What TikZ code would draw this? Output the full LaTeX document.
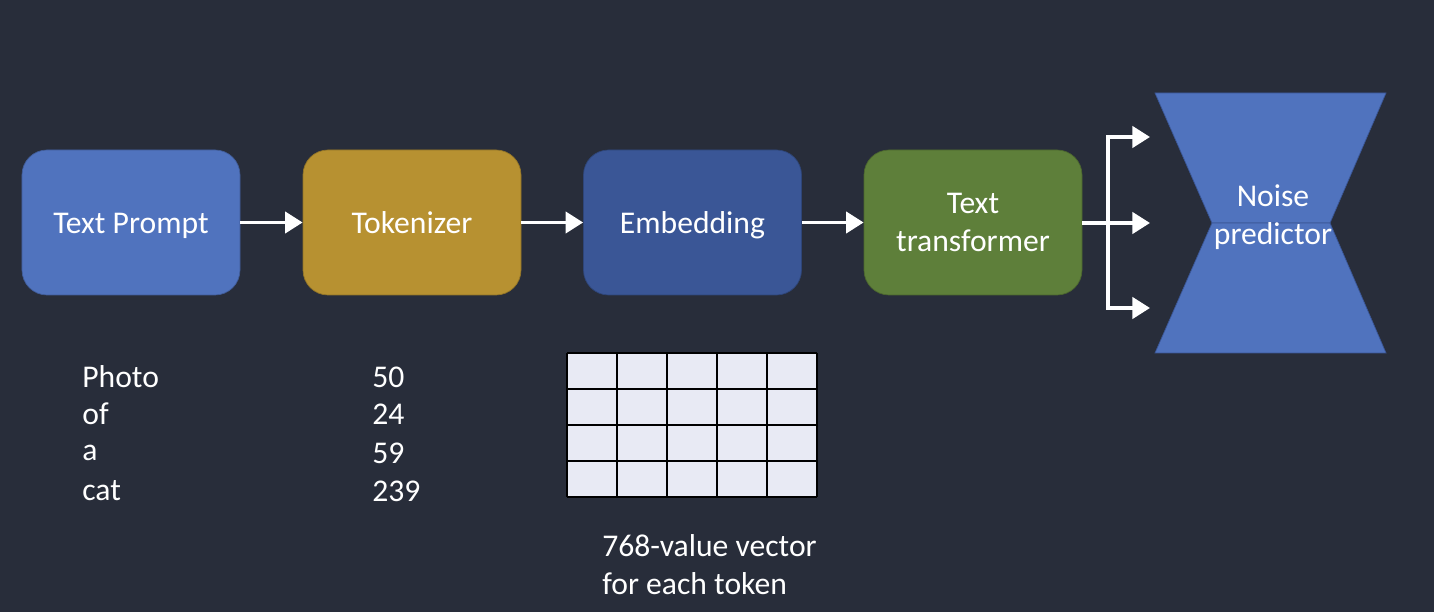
\documentclass[tikz,border=0pt]{standalone}
\usepackage{fontspec}
\setmainfont{Carlito}
\usetikzlibrary{arrows.meta, positioning, calc}

\definecolor{bgdark}{RGB}{40,45,58}
\definecolor{promptblue}{RGB}{80,115,190}
\definecolor{tokgold}{RGB}{183,145,49}
\definecolor{embblue}{RGB}{58,86,150}
\definecolor{trgreen}{RGB}{94,127,58}
\definecolor{gridfill}{RGB}{232,234,244}

\begin{document}
\begin{tikzpicture}[
  stage/.style={draw=#1!80!black, rectangle, rounded corners=0.5cm, fill=#1,
    minimum width=4.36cm, minimum height=2.9cm, text=white, align=center,
    font=\fontsize{18}{21.5}\selectfont},
  oneline/.style={text height=17pt, text depth=4pt},
  flow/.style={draw=white, line width=2.2pt, -{Triangle[length=10pt,width=12pt]}},
  label/.style={text=white, anchor=west, inner sep=0pt, font=\fontsize{18}{21.5}\selectfont}
]
% Background
\fill[bgdark] (0,0) rectangle (28.68,12.24);
\useasboundingbox (0,0) rectangle (28.68,12.24);

% Pipeline stages
\node[stage=promptblue, oneline] (prompt) at (2.62,7.79) {Text Prompt};
\node[stage=tokgold, oneline] (tok) at (8.24,7.79) {Tokenizer};
\node[stage=embblue, oneline] (emb) at (13.85,7.79) {Embedding};
\node[stage=trgreen] (trans) at (19.46,7.79) {Text\\transformer};

\draw[flow] (prompt) -- (tok);
\draw[flow] (tok) -- (emb);
\draw[flow] (emb) -- (trans);

% Noise predictor (hourglass)
\fill[promptblue, draw=embblue] (23.10,10.38) -- (27.72,10.38) -- (26.60,7.78) -- (24.24,7.78) -- cycle;
\fill[promptblue, draw=embblue] (24.24,7.78) -- (26.60,7.78) -- (27.72,5.18) -- (23.10,5.18) -- cycle;
\node[text=white, align=center, font=\fontsize{18}{21.5}\selectfont] (noise) at (25.46,7.90) {Noise\\predictor};

% Branching arrows into the noise predictor
\coordinate (split) at (22.16,7.78);
\coordinate (intop) at (23.00,9.50);
\coordinate (inmid) at (23.00,7.78);
\coordinate (inbot) at (23.00,6.08);
\draw[flow] (trans.east |- split) -- (inmid);
\draw[flow] (split) |- (intop);
\draw[flow] (split) |- (inbot);

% Tokens and ids
\node[label] (w1) at (1.64,4.70) {Photo};
\node[label] (w2) at (1.64,3.96) {of};
\node[label] (w3) at (1.64,3.18) {a};
\node[label] (w4) at (1.64,2.42) {cat};
\node[label] (id1) at (7.44,4.70) {50};
\node[label] (id2) at (7.44,3.96) {24};
\node[label] (id3) at (7.44,3.18) {59};
\node[label] (id4) at (7.44,2.42) {239};

% Embedding vectors
\fill[gridfill] (11.34,2.30) rectangle (16.34,5.18);
\draw[black, line width=0.9pt, xstep=1.0, ystep=0.72, shift={(11.34,2.30)}] (0,0) grid (5.0,2.88);
\node[label, align=left, anchor=north west] (vec) at (12.04,1.56) {768-value vector\\for each token};
\end{tikzpicture}
\end{document}
